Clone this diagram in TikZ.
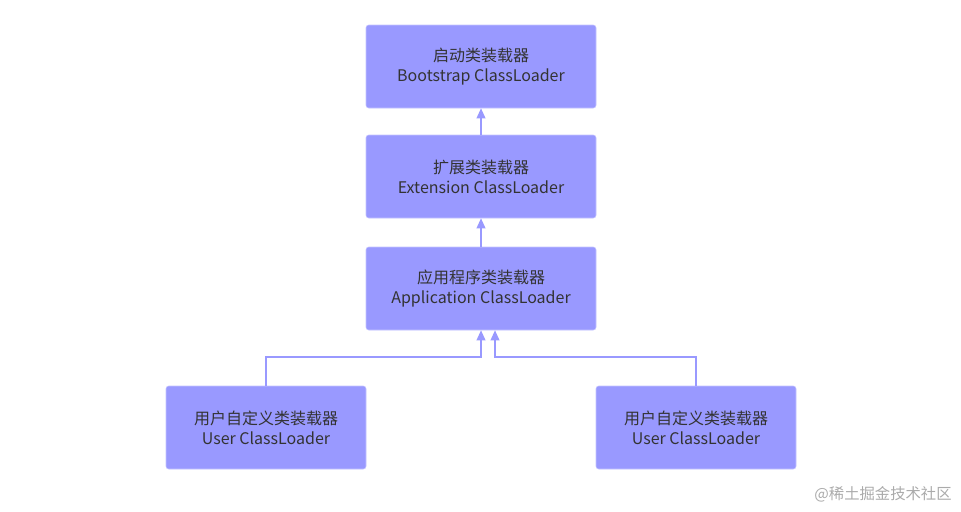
\documentclass[tikz,border=0pt]{standalone}
\usepackage{fontspec}
\setmainfont{Noto Sans CJK SC}
\usetikzlibrary{arrows.meta}
\definecolor{loaderfill}{HTML}{9999FF}
\definecolor{loaderedge}{HTML}{C4C4FF}
\definecolor{loadertext}{HTML}{333333}
\definecolor{markgray}{HTML}{ABABAB}

\begin{document}
\begin{tikzpicture}[x=0.75pt, y=-0.75pt, >={Triangle[length=7.5pt, width=6.5pt]},
  every node/.style={font=\fontsize{12}{15}\selectfont, text=loadertext},
  loader/.style={draw=loaderedge, fill=loaderfill, rounded corners=2pt, align=center, minimum width=172.5pt, minimum height=62.25pt, inner sep=0pt},
  userloader/.style={loader, minimum width=150pt},
  link/.style={->, draw=loaderfill, line width=1.2pt}]
  \useasboundingbox[fill=white] (0,0) rectangle (961,511);
  \node[loader] (boot) at (481,66.5) {启动类装载器\\Bootstrap ClassLoader};
  \node[loader] (ext) at (481,176.5) {扩展类装载器\\Extension ClassLoader};
  \node[loader] (app) at (481,288.5) {应用程序类装载器\\Application ClassLoader};
  \node[userloader] (userL) at (266,427.5) {用户自定义类装载器\\User ClassLoader};
  \node[userloader] (userR) at (696,427.5) {用户自定义类装载器\\User ClassLoader};
  \coordinate (joinL) at (481,357);
  \coordinate (joinR) at (495,357);
  \draw[link] (ext) -- (boot);
  \draw[link] (app) -- (ext);
  \draw[link] (userL.north) |- (joinL) -- (joinL |- app.south);
  \draw[link] (userR.north) |- (joinR) -- (joinR |- app.south);
  \node[text=markgray, font=\fontsize{11.5}{14}\selectfont] (mark) at (883,494) {@稀土掘金技术社区};
\end{tikzpicture}
\end{document}
